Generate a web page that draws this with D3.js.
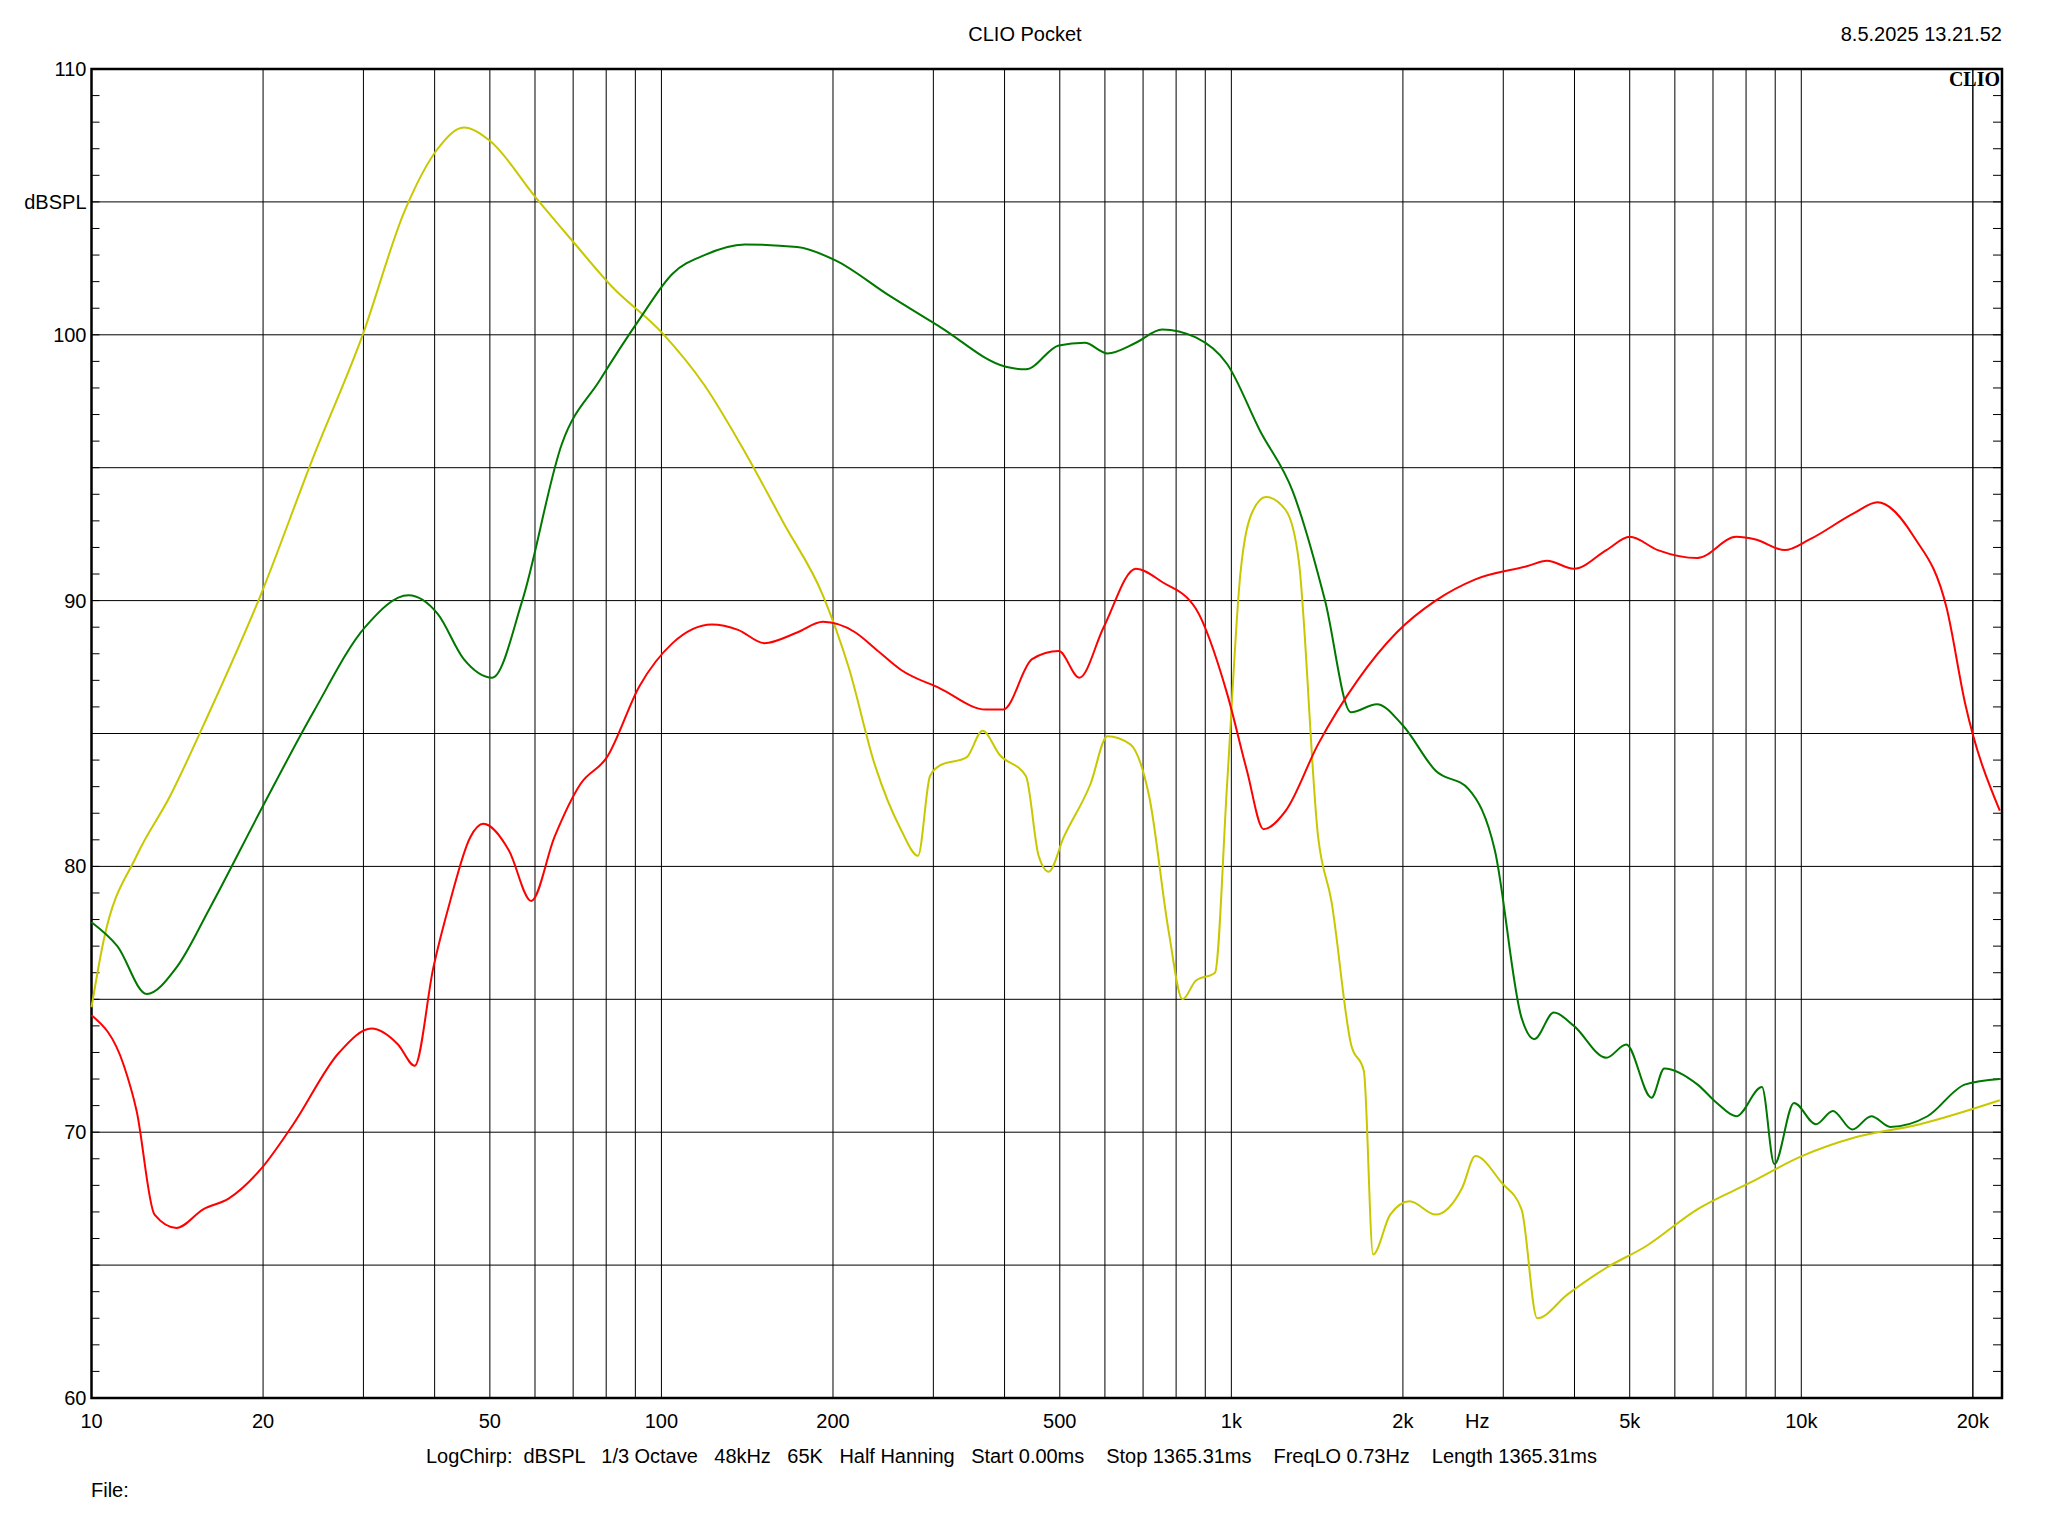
<!DOCTYPE html>
<html><head><meta charset="utf-8">
<script src="https://cdn.jsdelivr.net/npm/d3@7"></script>
<style>body{margin:0;background:#fff}text{font-family:Arial,"Liberation Sans",sans-serif}</style>
</head><body><svg id="c" width="2048" height="1536"></svg>
<script>
const yellowF=[10,10.5,12,13.7,16.1,19.8,24.5,29.8,35.5,40.5,45,50,60,70,82,100,119,140,164,192,213,237,263,282,296,308,343,366,392,436,459,478,508,566,606,664,718,777,821,866,936,983,1037,1092,1150,1246,1313,1420,1498,1622,1708,1773,1900,2055,2283,2540,2680,2980,3230,3440,3890,4550,5330,6570,8130,10020,12400,16150,22300];
const yellowDB=[74.7,77.2,80.4,82.6,85.8,90.2,95.4,99.9,104.7,107.0,107.8,107.3,105.2,103.5,101.8,100.1,98.1,95.6,92.9,90.2,87.5,83.8,81.4,80.4,83.4,83.8,84.1,85.1,84.2,83.4,80.4,79.8,81.1,83.1,84.9,84.6,82.6,77.5,75.0,75.7,76.0,83.1,91.0,93.4,93.9,93.4,91.5,81.1,78.7,73.3,72.3,65.4,66.9,67.4,66.9,67.9,69.1,68.1,67.1,63.0,63.9,64.9,65.7,67.1,68.1,69.1,69.8,70.3,71.2];
const greenF=[10,11.1,12.5,14.1,16.1,19.8,24.5,30.2,36,40.5,45,50.5,57,66.9,78,91.6,104.6,119,140,173,202,250,308,402,436,498,553,606,680,756,866,983,1122,1282,1460,1622,1800,2000,2283,2610,2900,3230,3400,3680,3990,4550,4930,5460,5750,6570,7110,7690,8530,8970,9710,10610,11360,12290,13270,14330,16650,19400,22300];
const greenDB=[77.9,77.0,75.2,76.2,78.4,82.1,85.8,89.0,90.2,89.5,87.8,87.1,90.0,95.9,98.3,100.6,102.3,103.0,103.4,103.3,102.8,101.5,100.3,98.8,98.7,99.6,99.7,99.3,99.7,100.2,99.9,98.9,96.4,94.1,90.0,85.8,86.1,85.3,83.6,82.9,80.6,74.3,73.5,74.5,74.0,72.8,73.3,71.3,72.4,71.8,71.1,70.6,71.7,68.8,71.1,70.3,70.8,70.1,70.6,70.2,70.6,71.8,72.0];
const redF=[10,11.4,12,12.9,14.1,15.7,17.4,19.8,22.6,27.2,31,34.5,36.9,39.8,42.6,46.2,48.7,54,59.1,64.9,72.1,80.2,91.6,104.6,122.6,136.3,151.5,173,192,219,237,263,308,371,398,447,498,541,597,680,756,866,983,1065,1139,1246,1420,1665,1950,2283,2680,3310,3580,3990,4550,5000,5600,6570,7690,8320,9350,10340,12400,13600,15760,18000,19400,22300];
const redDB=[74.4,72.5,70.8,66.9,66.4,67.1,67.5,68.6,70.3,73.0,73.9,73.3,72.5,76.2,78.7,81.1,81.6,80.6,78.7,81.1,83.1,84.1,86.8,88.4,89.1,88.9,88.4,88.8,89.2,88.8,88.2,87.4,86.7,85.9,85.9,87.8,88.1,87.1,89.0,91.2,90.7,89.7,86.5,83.6,81.4,82.1,84.6,87.0,88.8,90.0,90.8,91.3,91.5,91.2,91.9,92.4,91.9,91.6,92.4,92.3,91.9,92.3,93.3,93.7,92.4,89.7,86.1,82.1];
const xTickVals=[10,20,50,100,200,500,1000,2000,5000,10000,20000];
const xTickLabels=["10","20","50","100","200","500","1k","2k","5k","10k","20k"];
const yTickVals=[60,70,80,90,100,110];

const svg=d3.select("#c");
const L=91.5,R=2002,T=69,B=1398;
const x=d3.scaleLog().domain([10,22500]).range([L,R]);
const y=d3.scaleLinear().domain([60,110]).range([B,T]);
const g=svg.append("g");
const vg=[];
for(let d=10;d<=10000;d*=10)for(let m=1;m<10;m++){const f=d*m;if(f>10)vg.push(f);}
vg.push(20000);
g.selectAll(".vg").data(vg).join("line").attr("x1",d=>x(d)).attr("x2",d=>x(d)).attr("y1",T).attr("y2",B).attr("stroke","#000").attr("stroke-width",1);
g.selectAll(".hg").data(d3.range(65,110,5)).join("line").attr("x1",L).attr("x2",R).attr("y1",d=>y(d)).attr("y2",d=>y(d)).attr("stroke","#000").attr("stroke-width",1);
g.selectAll(".rt").data(d3.range(61,110,1)).join("line").attr("x1",R-9).attr("x2",R).attr("y1",d=>y(d)).attr("y2",d=>y(d)).attr("stroke","#000");
g.selectAll(".lt").data(d3.range(61,110,1)).join("line").attr("x1",L).attr("x2",L+8).attr("y1",d=>y(d)).attr("y2",d=>y(d)).attr("stroke","#000");
g.append("rect").attr("x",L).attr("y",T).attr("width",R-L).attr("height",B-T).attr("fill","none").attr("stroke","#000").attr("stroke-width",2.5);
const fs=20;
g.selectAll(".yl").data(yTickVals).join("text").attr("x",L-5).attr("y",d=>y(d)+7).attr("text-anchor","end").attr("font-size",fs).text(d=>d);
g.append("text").attr("x",L-5).attr("y",y(105)+7).attr("text-anchor","end").attr("font-size",fs).text("dBSPL");
g.selectAll(".xl").data(xTickVals).join("text").attr("x",d=>x(d)).attr("y",1428).attr("text-anchor","middle").attr("font-size",fs).text((d,i)=>xTickLabels[i]);
g.append("text").attr("x",x(2700)).attr("y",1428).attr("text-anchor","middle").attr("font-size",fs).text("Hz");
g.append("text").attr("x",1025).attr("y",41).attr("text-anchor","middle").attr("font-size",fs).text("CLIO Pocket");
g.append("text").attr("x",R).attr("y",41).attr("text-anchor","end").attr("font-size",fs).text("8.5.2025 13.21.52");
g.append("text").attr("x",R-2).attr("y",T+17).attr("text-anchor","end").attr("font-size",20).attr("font-weight","bold").style("font-family","'Liberation Serif',serif").text("CLIO");
g.append("text").attr("x",426).attr("y",1463).attr("font-size",fs).attr("textLength",1171).attr("lengthAdjust","spacing").style("white-space","pre").text("LogChirp:  dBSPL   1/3 Octave   48kHz   65K   Half Hanning   Start 0.00ms    Stop 1365.31ms    FreqLO 0.73Hz    Length 1365.31ms");
g.append("text").attr("x",91).attr("y",1497).attr("font-size",fs).text("File:");
const line=d3.line().x(d=>x(d[0])).y(d=>y(d[1])).curve(d3.curveMonotoneX);
[[yellowF,yellowDB,"#c8c800"],[greenF,greenDB,"#007800"],[redF,redDB,"#ff0000"]].forEach(([f,v,c])=>{
  g.append("path").datum(f.map((ff,i)=>[ff,v[i]])).attr("d",line).attr("fill","none").attr("stroke",c).attr("stroke-width",2);
});
</script></body></html>
